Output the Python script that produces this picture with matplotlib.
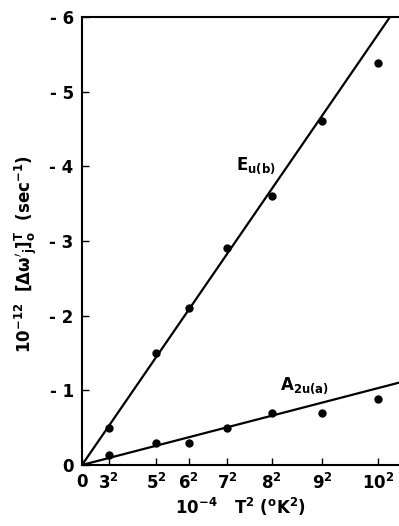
import numpy as np
import matplotlib.pyplot as plt

plt.rcParams['font.family'] = ['DejaVu Sans']
plt.rcParams['mathtext.fontset'] = 'dejavusans'
plt.rcParams['mathtext.default'] = 'bf'

# T^2 values in units of 10^4 K^2
t_squared = np.array([3, 5, 6, 7, 8, 9, 10]) ** 2
tick_labels = ['0', '$3^2$', '$5^2$', '$6^2$', '$7^2$', '$8^2$', '$9^2$', '$10^2$']

eu_b = [-0.50, -1.50, -2.10, -2.90, -3.60, -4.60, -5.38]
a2u_a = [-0.14, -0.30, -0.30, -0.50, -0.70, -0.70, -0.88]

# fitted slopes through the origin
eu_slope = -0.0577
a2u_slope = -0.0103

fig = plt.figure(figsize=(3.99, 5.26), dpi=100)
ax = fig.add_axes([0.2055, 0.116, 0.7945, 0.852])

x_fit = np.array([0, 107])
ax.plot(x_fit, eu_slope * x_fit, color='black', lw=1.6)
ax.plot(x_fit, a2u_slope * x_fit, color='black', lw=1.6)
ax.plot(t_squared, eu_b, 'o', color='black', ms=5)
ax.plot(t_squared, a2u_a, 'o', color='black', ms=5)

ax.set_xlim(0, 107)
ax.set_ylim(0, -6)

ax.set_xticks([0] + list(t_squared))
ax.set_xticklabels(tick_labels, fontsize=12, fontweight='bold')
ax.set_yticks([0, -1, -2, -3, -4, -5, -6])
ax.set_yticklabels(['0', '- 1', '- 2', '- 3', '- 4', '- 5', '- 6'],
                   fontsize=12, fontweight='bold')
ax.tick_params(direction='in', length=5, width=1, pad=6)

ax.spines['right'].set_visible(False)
for side in ['left', 'bottom', 'top']:
    ax.spines[side].set_linewidth(1.5)

ax.text(52, -3.95, r'E$_{u(b)}$', fontsize=12, fontweight='bold')
ax.text(67, -1.0, r'A$_{2u(a)}$', fontsize=12, fontweight='bold')

ax.set_xlabel(r'10$^{-4}$   T$^{2}$ ($^{o}$K$^{2}$)',
              fontsize=12, fontweight='bold', labelpad=2)
ax.set_ylabel(r"10$^{-12}$  [$\Delta\omega'_{j}$]$^{T}_{o}$  (sec$^{-1}$)",
              fontsize=12, fontweight='bold')
ax.yaxis.set_label_coords(-0.135, 0.47)

fig.savefig('out.png', dpi=100)
